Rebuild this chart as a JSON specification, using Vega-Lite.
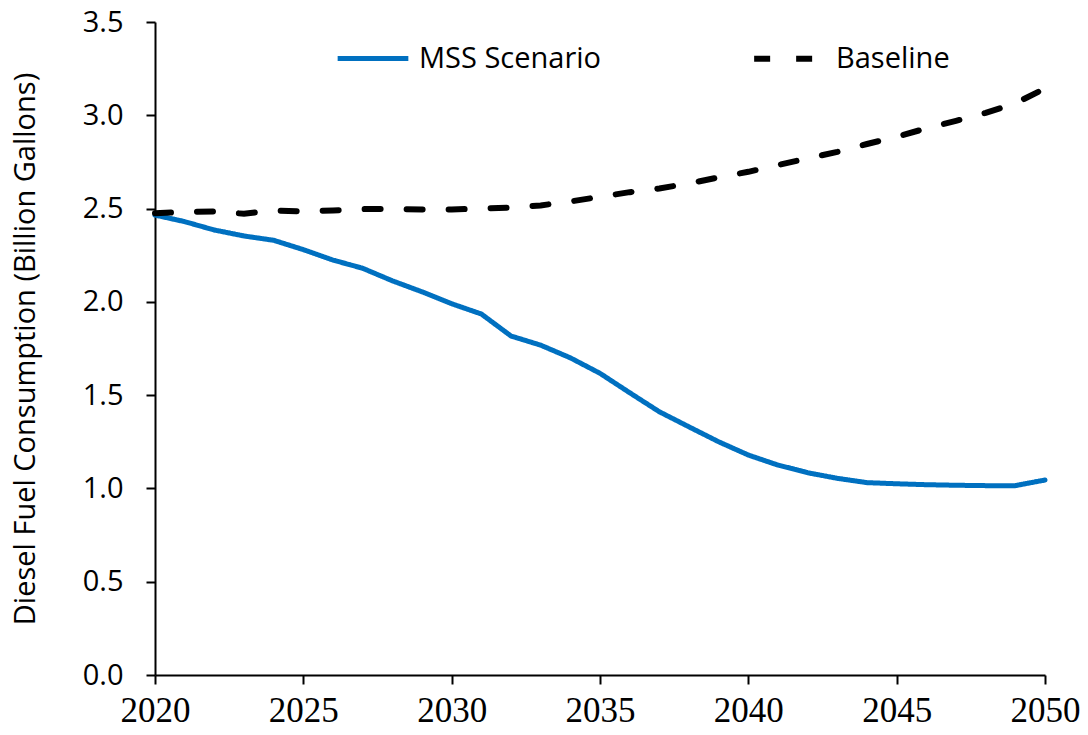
{
  "$schema": "https://vega.github.io/schema/vega-lite/v6.json",
  "width": 890,
  "height": 653,
  "autosize": {"type": "none"},
  "padding": {"left": 155, "top": 22, "right": 43, "bottom": 60},
  "background": "white",
  "config": {
    "view": {"stroke": null},
    "font": "Open Sans"
  },
  "data": {
    "values": [
      {"year": 2020, "series": "MSS Scenario", "value": 2.465},
      {"year": 2021, "series": "MSS Scenario", "value": 2.43},
      {"year": 2022, "series": "MSS Scenario", "value": 2.385},
      {"year": 2023, "series": "MSS Scenario", "value": 2.353},
      {"year": 2024, "series": "MSS Scenario", "value": 2.33},
      {"year": 2025, "series": "MSS Scenario", "value": 2.28},
      {"year": 2026, "series": "MSS Scenario", "value": 2.224},
      {"year": 2027, "series": "MSS Scenario", "value": 2.18},
      {"year": 2028, "series": "MSS Scenario", "value": 2.113},
      {"year": 2029, "series": "MSS Scenario", "value": 2.054},
      {"year": 2030, "series": "MSS Scenario", "value": 1.99},
      {"year": 2031, "series": "MSS Scenario", "value": 1.935},
      {"year": 2032, "series": "MSS Scenario", "value": 1.817},
      {"year": 2033, "series": "MSS Scenario", "value": 1.768},
      {"year": 2034, "series": "MSS Scenario", "value": 1.70},
      {"year": 2035, "series": "MSS Scenario", "value": 1.617},
      {"year": 2036, "series": "MSS Scenario", "value": 1.513},
      {"year": 2037, "series": "MSS Scenario", "value": 1.411},
      {"year": 2038, "series": "MSS Scenario", "value": 1.33},
      {"year": 2039, "series": "MSS Scenario", "value": 1.25},
      {"year": 2040, "series": "MSS Scenario", "value": 1.179},
      {"year": 2041, "series": "MSS Scenario", "value": 1.125},
      {"year": 2042, "series": "MSS Scenario", "value": 1.084},
      {"year": 2043, "series": "MSS Scenario", "value": 1.054},
      {"year": 2044, "series": "MSS Scenario", "value": 1.031},
      {"year": 2045, "series": "MSS Scenario", "value": 1.025},
      {"year": 2046, "series": "MSS Scenario", "value": 1.02},
      {"year": 2047, "series": "MSS Scenario", "value": 1.017},
      {"year": 2048, "series": "MSS Scenario", "value": 1.015},
      {"year": 2049, "series": "MSS Scenario", "value": 1.015},
      {"year": 2050, "series": "MSS Scenario", "value": 1.045},
      {"year": 2020, "series": "Baseline", "value": 2.475},
      {"year": 2021, "series": "Baseline", "value": 2.482},
      {"year": 2022, "series": "Baseline", "value": 2.485},
      {"year": 2023, "series": "Baseline", "value": 2.472},
      {"year": 2024, "series": "Baseline", "value": 2.49},
      {"year": 2025, "series": "Baseline", "value": 2.485},
      {"year": 2026, "series": "Baseline", "value": 2.49},
      {"year": 2027, "series": "Baseline", "value": 2.497},
      {"year": 2028, "series": "Baseline", "value": 2.498},
      {"year": 2029, "series": "Baseline", "value": 2.495},
      {"year": 2030, "series": "Baseline", "value": 2.495},
      {"year": 2031, "series": "Baseline", "value": 2.50},
      {"year": 2032, "series": "Baseline", "value": 2.505},
      {"year": 2033, "series": "Baseline", "value": 2.517},
      {"year": 2034, "series": "Baseline", "value": 2.538},
      {"year": 2035, "series": "Baseline", "value": 2.563},
      {"year": 2036, "series": "Baseline", "value": 2.588},
      {"year": 2037, "series": "Baseline", "value": 2.608},
      {"year": 2038, "series": "Baseline", "value": 2.635},
      {"year": 2039, "series": "Baseline", "value": 2.667},
      {"year": 2040, "series": "Baseline", "value": 2.697},
      {"year": 2041, "series": "Baseline", "value": 2.733},
      {"year": 2042, "series": "Baseline", "value": 2.769},
      {"year": 2043, "series": "Baseline", "value": 2.804},
      {"year": 2044, "series": "Baseline", "value": 2.846},
      {"year": 2045, "series": "Baseline", "value": 2.885},
      {"year": 2046, "series": "Baseline", "value": 2.93},
      {"year": 2047, "series": "Baseline", "value": 2.97},
      {"year": 2048, "series": "Baseline", "value": 3.013},
      {"year": 2049, "series": "Baseline", "value": 3.064},
      {"year": 2050, "series": "Baseline", "value": 3.144}
    ]
  },
  "mark": {"type": "line", "strokeCap": "round"},
  "encoding": {
    "x": {
      "field": "year",
      "type": "quantitative",
      "scale": {"domain": [2020, 2050], "nice": false, "zero": false},
      "axis": {
        "values": [2020, 2025, 2030, 2035, 2040, 2045, 2050],
        "format": "d",
        "title": null,
        "grid": false,
        "domainColor": "black",
        "domainWidth": 2,
        "tickColor": "black",
        "tickWidth": 2,
        "tickSize": 9,
        "labelFont": "Liberation Sans Narrow",
        "labelFontSize": 35,
        "labelColor": "black",
        "labelPadding": 9,
        "labelFlush": false
      }
    },
    "y": {
      "field": "value",
      "type": "quantitative",
      "scale": {"domain": [0, 3.5], "nice": false},
      "axis": {
        "values": [0, 0.5, 1, 1.5, 2, 2.5, 3, 3.5],
        "format": ".1f",
        "title": "Diesel Fuel Consumption (Billion Gallons)",
        "titleFont": "Open Sans",
        "titleFontSize": 29,
        "titleFontWeight": "normal",
        "titleColor": "black",
        "titlePadding": 42,
        "grid": false,
        "domainColor": "black",
        "domainWidth": 2,
        "tickColor": "black",
        "tickWidth": 2,
        "tickSize": 9,
        "labelFont": "Open Sans",
        "labelFontSize": 29,
        "labelColor": "black",
        "labelPadding": 23
      }
    },
    "color": {
      "field": "series",
      "type": "nominal",
      "scale": {"domain": ["MSS Scenario", "Baseline"], "range": ["#0070C0", "#000000"]},
      "legend": {
        "title": null,
        "orient": "none",
        "legendX": 180,
        "legendY": -2,
        "direction": "horizontal",
        "symbolType": "stroke",
        "symbolSize": 5000,
        "symbolStrokeWidth": 5,
        "labelFont": "Open Sans",
        "labelFontSize": 29,
        "labelColor": "black",
        "labelLimit": 400,
        "labelOffset": 8,
        "columnPadding": 140
      }
    },
    "strokeDash": {
      "field": "series",
      "type": "nominal",
      "scale": {"domain": ["MSS Scenario", "Baseline"], "range": [[1, 0], [16, 26]]},
      "legend": null
    },
    "strokeWidth": {
      "field": "series",
      "type": "nominal",
      "scale": {"domain": ["MSS Scenario", "Baseline"], "range": [5, 6]},
      "legend": null
    }
  }
}
